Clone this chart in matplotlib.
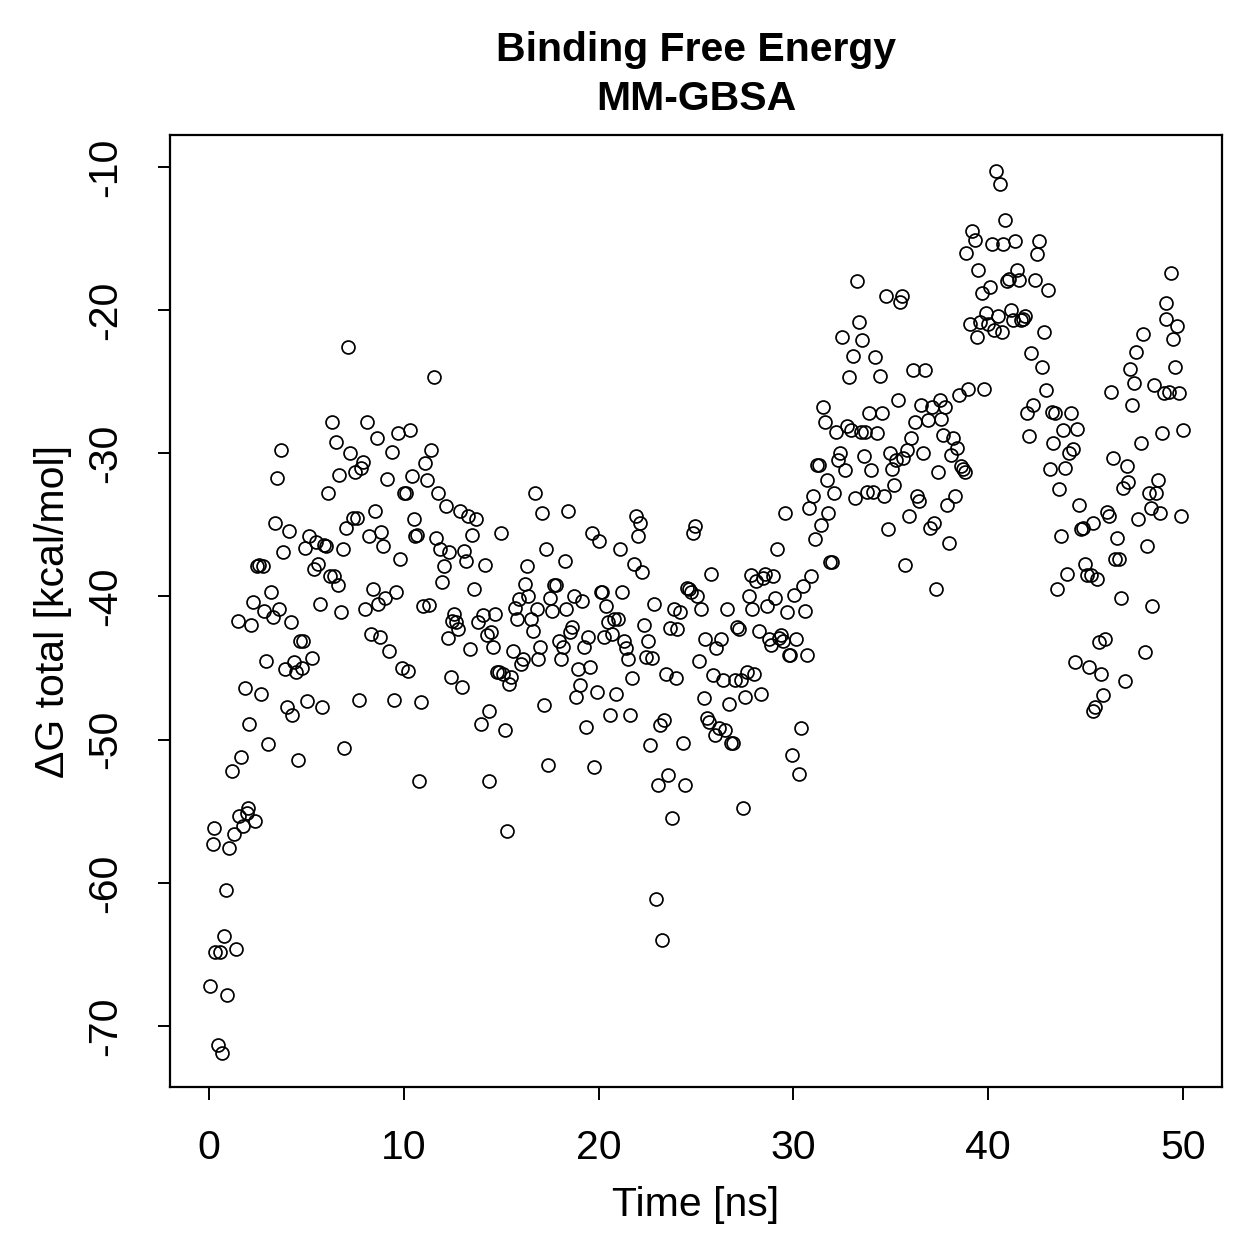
import matplotlib
matplotlib.use("Agg")
import matplotlib.pyplot as plt

plt.rcParams['font.family'] = ['Liberation Sans', 'DejaVu Sans']

time_ns = [
    0.05, 0.2, 0.25, 0.3, 0.45, 0.55, 0.65, 0.75, 0.85, 0.95,
    1.05, 1.2, 1.3, 1.4, 1.5, 1.55, 1.65, 1.75, 1.85, 1.95,
    2.0, 2.05, 2.15, 2.25, 2.35, 2.45, 2.55, 2.65, 2.75, 2.85,
    2.95, 3.05, 3.2, 3.3, 3.4, 3.5, 3.6, 3.7, 3.8, 3.9,
    4.0, 4.1, 4.2, 4.25, 4.35, 4.45, 4.55, 4.65, 4.75, 4.85,
    4.95, 5.05, 5.15, 5.3, 5.4, 5.5, 5.6, 5.7, 5.8, 5.9,
    6.0, 6.1, 6.2, 6.3, 6.4, 6.5, 6.6, 6.7, 6.8, 6.9,
    6.95, 7.05, 7.15, 7.25, 7.4, 7.5, 7.6, 7.7, 7.8, 7.9,
    8.0, 8.1, 8.2, 8.3, 8.4, 8.5, 8.6, 8.7, 8.8, 8.85,
    8.95, 9.05, 9.15, 9.25, 9.4, 9.5, 9.6, 9.7, 9.8, 9.9,
    10.0, 10.1, 10.2, 10.3, 10.4, 10.5, 10.6, 10.7, 10.8, 10.9,
    11.0, 11.1, 11.2, 11.3, 11.4, 11.55, 11.65, 11.75, 11.85, 11.95,
    12.05, 12.15, 12.25, 12.3, 12.4, 12.5, 12.6, 12.7, 12.8, 12.9,
    13.0, 13.1, 13.2, 13.3, 13.4, 13.5, 13.6, 13.7, 13.8, 13.95,
    14.05, 14.15, 14.25, 14.35, 14.4, 14.5, 14.6, 14.7, 14.8, 14.9,
    15.0, 15.1, 15.2, 15.3, 15.4, 15.5, 15.6, 15.7, 15.8, 15.9,
    16.0, 16.1, 16.2, 16.3, 16.4, 16.55, 16.65, 16.75, 16.85, 16.9,
    17.0, 17.1, 17.2, 17.3, 17.4, 17.5, 17.6, 17.7, 17.8, 17.95,
    18.05, 18.15, 18.25, 18.35, 18.45, 18.55, 18.65, 18.75, 18.85, 18.95,
    19.05, 19.15, 19.25, 19.35, 19.45, 19.55, 19.65, 19.75, 19.9, 20.0,
    20.1, 20.2, 20.3, 20.4, 20.5, 20.6, 20.7, 20.8, 20.9, 21.0,
    21.1, 21.2, 21.3, 21.4, 21.5, 21.6, 21.7, 21.8, 21.9, 22.0,
    22.15, 22.25, 22.35, 22.45, 22.55, 22.65, 22.75, 22.85, 22.95, 23.05,
    23.15, 23.25, 23.35, 23.45, 23.55, 23.65, 23.75, 23.85, 23.95, 24.05,
    24.2, 24.35, 24.45, 24.55, 24.65, 24.75, 24.85, 24.95, 25.05, 25.15,
    25.25, 25.4, 25.45, 25.55, 25.65, 25.75, 25.85, 25.95, 26.05, 26.2,
    26.3, 26.4, 26.5, 26.6, 26.7, 26.8, 26.9, 27.0, 27.1, 27.2,
    27.3, 27.4, 27.5, 27.6, 27.7, 27.8, 27.9, 28.0, 28.1, 28.25,
    28.35, 28.45, 28.55, 28.65, 28.75, 28.85, 28.95, 29.05, 29.15, 29.25,
    29.35, 29.45, 29.55, 29.65, 29.75, 29.85, 29.95, 30.05, 30.15, 30.3,
    30.4, 30.5, 30.6, 30.7, 30.8, 30.9, 31.0, 31.1, 31.2, 31.3,
    31.4, 31.5, 31.6, 31.7, 31.8, 31.9, 32.0, 32.1, 32.2, 32.3,
    32.4, 32.5, 32.65, 32.75, 32.85, 32.95, 33.05, 33.15, 33.25, 33.35,
    33.45, 33.5, 33.6, 33.7, 33.8, 33.9, 34.0, 34.1, 34.2, 34.3,
    34.45, 34.55, 34.65, 34.75, 34.85, 34.95, 35.05, 35.15, 35.25, 35.35,
    35.45, 35.55, 35.65, 35.75, 35.85, 35.95, 36.05, 36.15, 36.25, 36.35,
    36.45, 36.55, 36.65, 36.75, 36.9, 37.0, 37.1, 37.2, 37.3, 37.4,
    37.5, 37.6, 37.7, 37.8, 37.9, 38.0, 38.1, 38.2, 38.3, 38.4,
    38.5, 38.6, 38.7, 38.8, 38.85, 38.95, 39.05, 39.15, 39.3, 39.4,
    39.5, 39.6, 39.7, 39.8, 39.9, 40.0, 40.1, 40.2, 40.3, 40.4,
    40.5, 40.6, 40.7, 40.75, 40.85, 40.95, 41.05, 41.15, 41.25, 41.4,
    41.5, 41.6, 41.7, 41.8, 41.9, 42.0, 42.1, 42.2, 42.3, 42.4,
    42.5, 42.6, 42.75, 42.85, 42.95, 43.05, 43.15, 43.25, 43.35, 43.45,
    43.55, 43.65, 43.75, 43.85, 43.95, 44.05, 44.15, 44.25, 44.35, 44.45,
    44.55, 44.65, 44.75, 44.85, 44.95, 45.05, 45.15, 45.3, 45.4, 45.4,
    45.5, 45.6, 45.7, 45.8, 45.9, 46.0, 46.1, 46.2, 46.3, 46.4,
    46.5, 46.6, 46.7, 46.8, 46.9, 47.0, 47.1, 47.2, 47.3, 47.4,
    47.5, 47.6, 47.7, 47.85, 47.95, 48.05, 48.15, 48.25, 48.35, 48.4,
    48.5, 48.6, 48.7, 48.8, 48.9, 49.0, 49.1, 49.15, 49.3, 49.4,
    49.5, 49.6, 49.7, 49.8, 49.9, 50.0,
]

dg_total = [
    -67.2, -57.3, -56.2, -64.8, -71.3, -64.8, -71.9, -63.7, -60.5, -67.8,
    -57.6, -52.2, -56.6, -64.6, -41.7, -55.3, -51.2, -56.0, -46.4, -55.1,
    -54.8, -48.9, -42.0, -40.4, -55.7, -37.9, -37.8, -46.8, -37.9, -41.0,
    -44.5, -50.3, -39.7, -41.4, -34.9, -31.7, -40.9, -29.8, -36.9, -45.1,
    -47.7, -35.4, -41.8, -48.3, -44.6, -45.3, -51.4, -43.1, -45.0, -43.1,
    -36.6, -47.3, -35.8, -44.3, -38.1, -36.2, -37.7, -40.5, -47.7, -36.4,
    -36.5, -32.8, -38.6, -27.8, -38.6, -29.2, -39.2, -31.5, -41.1, -36.7,
    -50.6, -35.2, -22.6, -30.0, -34.5, -31.3, -34.5, -47.2, -31.0, -30.6,
    -40.9, -27.8, -35.8, -42.6, -39.5, -34.0, -28.9, -40.5, -42.8, -35.5,
    -36.5, -40.1, -31.8, -43.8, -29.9, -47.2, -39.7, -28.6, -37.4, -45.0,
    -32.8, -32.8, -45.2, -28.4, -31.6, -34.6, -35.8, -35.7, -52.9, -47.4,
    -40.7, -30.7, -31.9, -40.6, -29.8, -24.7, -35.9, -32.8, -36.7, -39.0,
    -37.9, -33.7, -42.9, -36.9, -45.6, -41.7, -41.2, -41.8, -42.3, -34.0,
    -46.3, -36.8, -37.5, -34.4, -43.7, -35.7, -39.5, -34.6, -41.8, -48.9,
    -41.3, -37.8, -42.7, -48.0, -52.9, -42.5, -43.5, -41.2, -45.3, -45.3,
    -35.6, -45.4, -49.3, -56.4, -46.1, -45.6, -43.8, -40.8, -41.6, -40.2,
    -44.7, -44.4, -39.1, -37.9, -40.0, -41.6, -42.4, -32.8, -40.9, -44.4,
    -43.5, -34.2, -47.6, -36.7, -51.8, -40.1, -41.0, -39.2, -39.2, -43.1,
    -44.4, -43.5, -37.5, -40.9, -34.0, -42.5, -42.1, -40.0, -47.0, -45.1,
    -46.2, -40.3, -43.5, -49.1, -42.8, -44.9, -35.6, -51.9, -46.7, -36.1,
    -39.7, -39.7, -42.8, -40.7, -41.8, -48.3, -42.6, -41.6, -46.8, -41.6,
    -36.7, -39.7, -43.1, -43.6, -44.4, -48.3, -45.7, -37.7, -34.4, -35.8,
    -34.9, -38.3, -42.0, -44.2, -43.1, -50.4, -44.3, -40.5, -61.1, -53.2,
    -49.0, -64.0, -48.6, -45.4, -52.5, -42.2, -55.5, -40.9, -45.7, -42.3,
    -41.1, -50.2, -53.2, -39.4, -39.5, -39.7, -35.6, -35.1, -40.0, -44.5,
    -40.9, -47.1, -43.0, -48.5, -48.8, -38.4, -45.5, -49.7, -43.6, -49.2,
    -43.0, -45.8, -49.3, -40.9, -47.5, -50.2, -50.2, -45.8, -42.1, -42.3,
    -45.8, -54.8, -47.0, -45.3, -40.0, -38.5, -40.9, -45.4, -38.9, -42.4,
    -46.8, -38.7, -38.4, -40.7, -43.0, -43.4, -38.6, -40.1, -36.7, -42.9,
    -42.7, -43.1, -34.2, -41.1, -44.1, -44.1, -51.1, -39.9, -43.0, -52.4,
    -49.2, -39.3, -41.0, -44.1, -33.8, -38.6, -33.0, -36.0, -30.8, -30.8,
    -35.0, -26.8, -27.8, -31.9, -34.2, -37.6, -37.6, -32.8, -28.5, -30.5,
    -30.0, -21.9, -31.2, -28.1, -24.7, -28.4, -23.2, -33.1, -18.0, -20.8,
    -28.5, -22.1, -30.2, -28.5, -32.7, -27.2, -31.2, -32.7, -23.3, -28.6,
    -24.6, -27.2, -33.0, -19.0, -35.3, -30.0, -31.1, -32.2, -30.5, -26.3,
    -19.4, -19.0, -30.3, -37.8, -29.8, -34.4, -28.9, -24.2, -27.8, -33.0,
    -33.3, -26.6, -30.0, -24.2, -27.7, -35.2, -26.8, -34.9, -39.5, -31.3,
    -26.3, -27.6, -28.7, -26.8, -33.6, -36.3, -30.1, -28.9, -33.0, -29.6,
    -25.9, -30.9, -31.1, -31.3, -16.0, -25.5, -21.0, -14.5, -15.1, -21.9,
    -17.2, -20.8, -18.8, -25.5, -20.2, -21.0, -18.4, -15.4, -21.4, -10.3,
    -20.4, -11.2, -21.5, -15.4, -13.7, -18.0, -17.8, -20.0, -20.7, -15.2,
    -17.2, -17.9, -20.7, -20.6, -20.4, -27.2, -28.8, -23.0, -26.6, -17.9,
    -16.1, -15.2, -24.0, -21.5, -25.6, -18.6, -31.1, -27.1, -29.3, -27.2,
    -39.5, -32.5, -35.8, -28.4, -31.0, -38.4, -30.0, -27.2, -29.7, -44.6,
    -28.3, -33.6, -35.3, -35.2, -37.7, -38.5, -44.9, -38.5, -34.9, -48.0,
    -47.7, -38.8, -43.2, -45.4, -46.9, -43.0, -34.1, -34.4, -25.7, -30.3,
    -37.4, -35.9, -37.4, -40.1, -32.4, -45.9, -30.9, -32.0, -24.1, -26.6,
    -25.1, -22.9, -34.6, -29.3, -21.7, -43.9, -36.5, -32.8, -33.8, -40.7,
    -25.2, -32.8, -31.9, -34.2, -28.6, -25.8, -20.6, -19.5, -25.7, -17.4,
    -22.0, -24.0, -21.1, -25.8, -34.4, -28.4,
]

x_ticks = [0, 10, 20, 30, 40, 50]
y_ticks = [-10, -20, -30, -40, -50, -60, -70]

n = min(len(time_ns), len(dg_total))

fig = plt.figure(figsize=(12.59, 12.59), dpi=100)
ax = fig.add_axes([170/1259, 1 - 1087/1259, (1222-170)/1259, (1087-135)/1259])

ax.plot(time_ns[:n], dg_total[:n], linestyle='none', marker='o', markersize=9.3,
        markerfacecolor='none', markeredgecolor='black', markeredgewidth=1.25)

ax.set_xlim(-2, 52)
ax.set_ylim(-74.26, -7.77)
ax.set_xticks(x_ticks)
ax.set_yticks(y_ticks)
ax.set_xticklabels([str(v) for v in x_ticks])
ax.set_yticklabels([str(v) for v in y_ticks], rotation=90, va='center')

for s in ax.spines.values():
    s.set_linewidth(1.6)
    s.set_color('black')
ax.tick_params(axis='both', direction='out', length=9, width=1.4, labelsize=29.5)
ax.tick_params(axis='x', pad=21)
ax.tick_params(axis='y', pad=24)

ax.set_xlabel('Time [ns]', fontsize=29.5, labelpad=14)
ax.set_ylabel('ΔG total [kcal/mol]', fontsize=29.5, labelpad=10)
ax.set_title('Binding Free Energy\nMM-GBSA', fontsize=29.5, fontweight='bold', pad=18, linespacing=1.38)

fig.savefig('out.png', dpi=100)
